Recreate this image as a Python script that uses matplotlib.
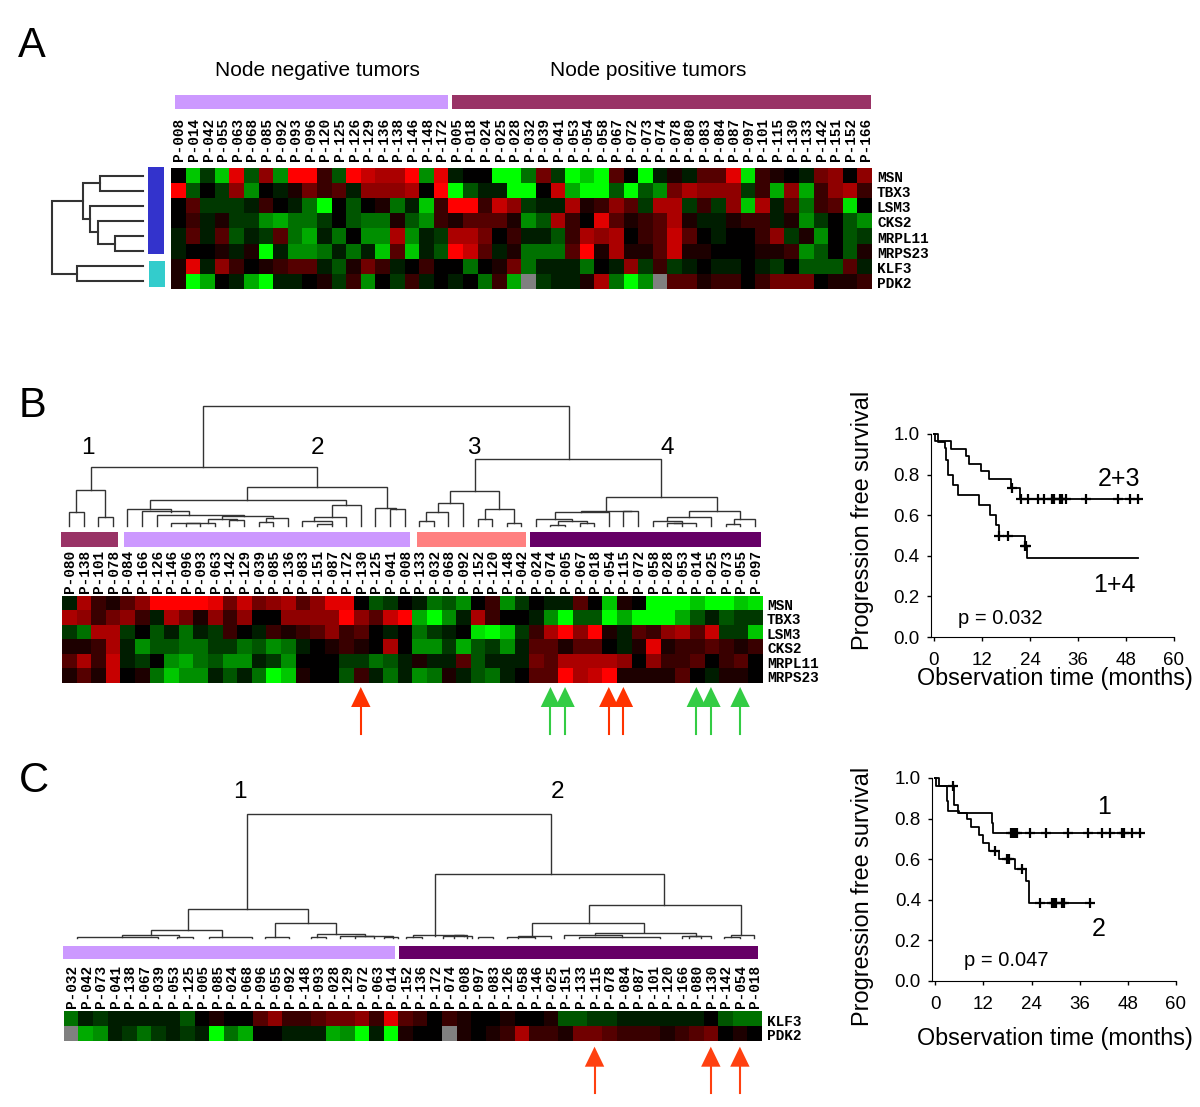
import numpy as np
import matplotlib
matplotlib.use("Agg")
import matplotlib.pyplot as plt
from matplotlib.colors import LinearSegmentedColormap
from matplotlib.patches import Rectangle

plt.rcParams['font.family'] = ['Liberation Sans', 'DejaVu Sans']

nan = float('nan')

# samples in the order of panel A
samples = ['008', '014', '042', '055', '063', '068', '085', '092', '093', '096',
           '120', '125', '126', '129', '136', '138', '146', '148', '172',
           '005', '018', '024', '025', '028', '032', '039', '041', '053', '054',
           '058', '067', '072', '073', '074', '078', '080', '083', '084', '087',
           '097', '101', '115', '130', '133', '142', '151', '152', '166']
genes = ['MSN', 'TBX3', 'LSM3', 'CKS2', 'MRPL11', 'MRPS23', 'KLF3', 'PDK2']

# expression levels, -9 full green .. 9 full red
msn = [0, -7, -2, -7, 8, -3, 5, -5, 9, 9, 2, -3, 9, 7, 6, 6, 9, -5, 8,
       -1, 0, 0, -9, -9, -4, 4, -2, -9, -7, -9, 3, 0, -9, -1, 1, -1, 3, 3, 8, -8, 2, 1, 0, -1, 4, 5, 0, 5]
tbx3 = [9, -3, 0, -2, 5, -5, 0, -1, 1, 4, 2, 3, -1, 5, 5, 5, 6, 0, 9,
        -9, -3, -1, -1, -9, -9, 0, 7, -6, -9, -9, -3, -9, -3, -5, 4, 6, 5, 5, 5, -2, 2, -6, 5, -6, 2, 5, 6, 2]
lsm3 = [0, 3, -2, -2, -2, -1, 2, 0, -1, -4, -9, 0, -3, 0, 1, -4, -1, -7, 2,
        9, 9, 2, 7, 5, -2, -1, -1, 6, 1, 2, 5, 3, -2, 6, 6, -2, 2, -2, 5, -7, 6, -1, 3, -4, 2, 3, -8, 0]
cks2 = [0, 2, -1, 1, -2, -2, -5, -6, -4, -4, -2, 0, -3, -4, -4, 1, -3, -5, 2,
        1, 3, 3, 3, 1, -5, -3, 6, 2, 0, 8, 3, 1, 2, 3, 6, 1, -1, -1, 1, 2, 2, -1, 1, -5, -2, 0, -3, -5]
mrpl11 = [-1, 3, -1, 3, -3, -1, -2, 3, -4, -6, -1, -4, 0, -5, -5, 6, -5, -1, -2,
          6, 6, 4, 0, 2, -1, -1, -3, 2, 6, 5, 6, 0, 2, 3, 7, 3, 0, -1, 0, 0, 2, 5, -2, 1, -5, 0, -3, -2]
mrps23 = [-1, 0, 0, 1, -1, 1, -9, -1, -5, -5, -4, -1, -4, -1, -7, 3, -7, -1, -3,
          9, 7, 3, -1, 1, -4, -4, -4, 3, 9, 1, 6, 1, 1, 3, 7, 1, 1, 0, 0, 0, 1, 1, 2, -5, -3, 0, -3, 1]
klf3 = [1, 8, -1, 5, 2, 0, 1, 2, 3, 3, -1, -3, 1, 4, 2, -1, 0, 2, 0,
        0, -4, 0, 1, 4, -4, -1, -1, -1, -4, 0, -1, 5, -2, 2, -2, -1, 0, -1, -1, 0, -1, -2, 0, -3, -3, -3, 3, -1]
pdk2 = [1, -9, -6, 0, -1, -6, -9, -1, -1, 0, 1, -2, 2, -5, 0, -2, 2, -1, 0,
        -1, 0, -4, 2, -6, nan, -2, -1, -1, 1, 6, -4, -9, -5, nan, 3, 3, 1, 2, 2, 0, 2, 4, 4, 4, 0, 1, 1, 2]

order_b = ['080', '138', '101', '078', '084', '166', '126', '146', '096', '093',
           '063', '142', '129', '039', '085', '136', '083', '151', '087', '172',
           '130', '125', '041', '008', '133', '032', '068', '092', '152', '120',
           '148', '042', '024', '074', '005', '067', '018', '054', '115', '072',
           '058', '028', '053', '014', '025', '073', '055', '097']
order_c = ['032', '042', '073', '041', '138', '067', '039', '053', '125', '005',
           '085', '024', '068', '096', '055', '092', '148', '093', '028', '129',
           '072', '063', '014', '152', '136', '172', '074', '008', '097', '083',
           '126', '058', '146', '025', '151', '133', '115', '078', '084', '087',
           '101', '120', '166', '080', '130', '142', '054', '018']

# dendrogram links: (left pos, left base, right pos, right base, top)
# pos in gene rows / sample columns, heights in pixels above the leaves
links_a = [(0, 0, 1, 0, 43), (4, 0, 5, 0, 28), (3, 0, 4.5, 28, 45), (2, 0, 3.75, 45, 53),
           (0.5, 43, 2.9, 53, 60), (6, 0, 7, 0, 66), (1.7, 60, 6.5, 66, 91)]
links_b = [(0, 0, 1, 0, 14), (2, 0, 3, 0, 9), (0.5, 14, 2.5, 9, 36), (1.5, 36, 17, 39, 59),
           (12.2, 26, 21.8, 18, 39), (5.55, 17, 19, 21, 26), (18, 9, 20, 0, 21),
           (16.8, 5, 19, 0, 9), (16, 0, 18, 2, 5), (17, 0, 18, 0, 2),
           (4, 0, 7, 14.5, 17), (5, 0, 8.2, 11.5, 15), (6, 0, 12, 10, 11.5),
           (10.5, 7, 14, 8, 10), (9.5, 3, 11.5, 6, 7), (7, 0, 10, 0, 3), (8, 0, 9, 0, 3.2),
           (11, 0, 12, 0, 6), (13, 0, 14, 0, 4), (13.5, 4, 15, 0, 8),
           (21, 0, 22.4, 16.7, 18), (22, 0, 23, 0, 16.7),
           (9.2, 59, 34.25, 67, 120),
           (24, 0, 25, 0, 5), (24.5, 5, 26, 0, 14), (25.3, 14, 27, 0, 23), (26.14, 23, 29.5, 17, 35),
           (28, 0, 29, 0, 7), (30, 0, 31, 0, 3.5), (28.5, 7, 30.5, 3.5, 17),
           (27.86, 35, 40.6, 29, 67), (36.8, 15.5, 44.4, 15, 29),
           (38, 0, 39, 0, 15), (33.3, 6.7, 37, 0, 14.3), (35.1, 14.3, 38.5, 15, 15.5),
           (32, 0, 34.5, 5.3, 6.7), (33.5, 1.5, 35.5, 3.5, 5.3), (33, 0, 34, 0, 1.5), (35, 0, 36, 0, 3.5),
           (42.5, 9, 46, 6.7, 15), (45.6, 1.7, 47, 0, 6.7), (45, 0, 46, 0, 1.7),
           (41, 5.3, 44, 0, 9), (40, 0, 42, 3.3, 5.3), (41.5, 2.7, 43, 0, 3.3), (41, 0, 42, 0, 2.7)]
links_c = [(12.1, 29, 33, 64, 124), (8, 7.7, 16.3, 15, 29), (5.5, 2.7, 10.4, 0.7, 7.7),
           (3.5, 0.4, 7.4, 0.4, 2.7), (0.4, 0, 6, 0, 0.5), (7.3, 0, 8.4, 0, 0.5), (9.5, 0, 12.4, 0, 0.5),
           (14, 1, 18.2, 3.7, 15), (13.3, 0, 15, 0, 1), (16.9, 0.4, 20.2, 1.7, 3.7),
           (16.5, 0, 17.5, 0, 0.4), (18.5, 0, 22.1, 0, 1.7), (19.5, 0, 20.8, 0, 2), (21.5, 0, 22.5, 0, 1.2),
           (25, 2, 40.8, 32.7, 64), (23.5, 0.4, 27, 2, 2.7), (23, 0, 24.1, 0, 0.4), (25.6, 0, 27.6, 0, 2.2),
           (26.3, 0, 27.2, 0, 2.3), (28, 0, 29, 0, 0.4),
           (35.6, 15, 46.1, 2.7, 32.7), (31.7, 2, 39.4, 5.3, 15), (30.7, 0, 33, 0, 2), (30, 0, 31.9, 0, 0.4),
           (36, 2.3, 43, 1.7, 5), (33.9, 0, 37.9, 0.4, 2.3), (34.9, 0, 40.5, 0, 0.4),
           (42, 0, 44, 0, 1.7), (42.5, 0, 43.3, 0, 2), (45.4, 0.4, 47, 0, 2.7), (44.9, 0, 46, 0, 0.4)]

# arrows under the heatmaps
red_b = ['130', '054', '115']
green_b = ['074', '005', '014', '025', '055']
red_c = ['115', '130', '054']

# Kaplan-Meier curves, panel B
b_up_t = [0, 0.2, 4.3, 8, 8.8, 11.8, 13.7, 19.3, 21.4, 51.8]
b_up_s = [1.0, 0.965, 0.926, 0.89, 0.854, 0.82, 0.778, 0.732, 0.68, 0.68]
b_up_cens = [19.5, 21.8, 23.5, 26, 27.5, 29.5, 30, 31.5, 32, 33, 38, 46, 49, 51]
b_lo_t = [0, 1, 2.7, 3.0, 3.5, 4.7, 6, 11.2, 13.9, 15.6, 16.2, 22.7, 23.3, 51]
b_lo_s = [1.0, 0.96, 0.93, 0.87, 0.8, 0.75, 0.7, 0.65, 0.6, 0.55, 0.5, 0.447, 0.39, 0.39]
b_lo_cens = [16.3, 18.5, 22.8, 23.1]

# panel C
c_up_t = [0, 0.2, 4.6, 5.8, 14.2, 14.5, 52]
c_up_s = [1.0, 0.96, 0.868, 0.827, 0.778, 0.73, 0.73]
c_up_cens = [4.4, 19, 19.5, 20, 20.5, 23.5, 27.5, 33, 38, 41.5, 43.5, 46.5, 47, 49, 51]
c_lo_t = [0, 1, 3, 3.3, 6, 8, 9, 11, 12, 13.5, 16, 19.8, 22.7, 23.3, 39.3]
c_lo_s = [1.0, 0.96, 0.885, 0.838, 0.827, 0.8, 0.76, 0.72, 0.68, 0.64, 0.6, 0.55, 0.494, 0.385, 0.385]
c_lo_cens = [15, 18, 18.5, 21.7, 26, 29, 29.5, 30, 31.5, 32, 38.5]

matrix = np.array([msn, tbx3, lsm3, cks2, mrpl11, mrps23, klf3, pdk2], dtype=float)

cmap = LinearSegmentedColormap.from_list('gbr', ['#00FF00', '#000000', '#FF0000'])
cmap.set_bad('#808080')
LILAC, MAROON, SALMON, PURPLE = '#CC99FF', '#993366', '#FF8080', '#660066'

fig = plt.figure(figsize=(12, 11.07), dpi=100)
canvas = fig.add_axes([0, 0, 1, 1])


def subset(order, rows):
    idx = [samples.index(s) for s in order]
    return matrix[rows][:, idx]


def heatmap(values, x0, x1, y0, y1):
    canvas.imshow(values, extent=(x0, x1, y1, y0), aspect='auto', cmap=cmap,
                  vmin=-9, vmax=9, interpolation='nearest')


def name_labels(order, x0, x1, y):
    w = (x1 - x0) / len(order)
    for i, s in enumerate(order):
        canvas.text(x0 + (i + 0.5) * w + 1, y, 'P-' + s, rotation=90, ha='center', va='bottom',
                    family='Liberation Mono', weight='bold', fontsize=10.4)


def gene_labels(names, x, y0, y1):
    h = (y1 - y0) / len(names)
    for i, g in enumerate(names):
        canvas.text(x, y0 + (i + 0.5) * h + 2.5, g, ha='left', va='center',
                    family='Liberation Mono', weight='bold', fontsize=10.4)


def bar(x0, x1, y0, y1, color):
    canvas.add_patch(Rectangle((x0, y0), x1 - x0, y1 - y0, color=color, lw=0))


def dendro(links, x0, x1, base, n=48, color='#333333', lw=1.0):
    w = (x1 - x0) / n
    for a, ab, b, bb, top in links:
        xa, xb = x0 + (a + 0.5) * w, x0 + (b + 0.5) * w
        canvas.plot([xa, xa, xb, xb], [base - ab, base - top, base - top, base - bb],
                    color=color, lw=lw, solid_joinstyle='miter')


def gene_dendro(links, right, y0, y1, n=8):
    h = (y1 - y0) / n
    for a, ab, b, bb, top in links:
        ya, yb = y0 + (a + 0.5) * h, y0 + (b + 0.5) * h
        canvas.plot([right - ab, right - top, right - top, right - bb], [ya, ya, yb, yb],
                    color='#333333', lw=1.5, solid_joinstyle='miter')


def arrows(names, order, color, x0, x1, tip, neck, tail):
    w = (x1 - x0) / len(order)
    for s in names:
        x = x0 + (order.index(s) + 0.5) * w
        canvas.plot([x, x], [neck, tail], color=color, lw=1.5)
        canvas.fill([x - 9.7, x, x + 9.7], [neck, tip, neck], color=color, lw=0)


def km_value(ts, ss, t):
    return ss[np.searchsorted(ts, t, side='right') - 1]


def km_panel(box, curves, xlabel_y, ylabel_y):
    left, top, right, bottom = box
    ax = fig.add_axes([left / 1200, 1 - bottom / 1107, (right - left) / 1200, (bottom - top) / 1107])
    ax.patch.set_alpha(0)
    for ts, ss, cens in curves:
        ax.step(ts, ss, where='post', color='black', lw=1.3, clip_on=False)
        ax.plot(cens, [km_value(ts, ss, t) for t in cens], ls='none', marker='+',
                color='black', ms=7.5, mew=1.6, clip_on=False)
    ax.set_xlim(-0.8, 60)
    ax.set_ylim(0, 1)
    ax.set_xticks(np.arange(0, 61, 12))
    ax.set_yticks(np.arange(0, 1.01, 0.2))
    ax.set_yticklabels(['0.0', '0.2', '0.4', '0.6', '0.8', '1.0'])
    ax.tick_params(axis='x', length=3, width=1, labelsize=13.5, pad=8)
    ax.tick_params(axis='y', length=3, width=1, labelsize=13.5, pad=5)
    for side in ['top', 'right']:
        ax.spines[side].set_visible(False)
    canvas.text(1055, xlabel_y, 'Observation time (months)', ha='center', va='center', fontsize=16.8)
    canvas.text(862, ylabel_y, 'Progression free survival', ha='center', va='center',
                rotation=90, fontsize=16.9)


# panel A
canvas.text(32, 46, 'A', ha='center', va='center', fontsize=30)
canvas.text(317, 71, 'Node negative tumors', ha='center', va='center', fontsize=15)
canvas.text(648, 71, 'Node positive tumors', ha='center', va='center', fontsize=15)
bar(175, 448, 95, 109, LILAC)
bar(452, 871, 95, 109, MAROON)
name_labels(samples, 171, 872, 161)
heatmap(matrix, 171, 872, 168, 289)
gene_labels(genes, 877, 168, 289)
bar(148, 164, 167, 254, '#3333CC')
bar(149, 165, 261, 287, '#33CCCC')
gene_dendro(links_a, 143, 168, 289)

# panel B
canvas.text(33, 406, 'B', ha='center', va='center', fontsize=30)
for lab, x in zip(['1', '2', '3', '4'], [88, 318, 474, 667]):
    canvas.text(x, 448, lab, ha='center', va='center', fontsize=17.5)
dendro(links_b, 61.7, 762, 526)
bar(61, 118, 532, 547, MAROON)
bar(124, 410, 532, 547, LILAC)
bar(417, 526, 532, 547, SALMON)
bar(530, 761, 532, 547, PURPLE)
name_labels(order_b, 61.7, 762, 593)
heatmap(subset(order_b, range(6)), 61.7, 762, 596, 683)
gene_labels(genes[:6], 767, 596, 683)
arrows(red_b, order_b, '#FF3300', 61.7, 762, 687, 707, 734)
arrows(green_b, order_b, '#33CC44', 61.7, 762, 687, 707, 734)
km_panel((930.7, 434, 1174, 637), [(b_up_t, b_up_s, b_up_cens), (b_lo_t, b_lo_s, b_lo_cens)], 679, 520)
canvas.text(1119, 479, '2+3', ha='center', va='center', fontsize=18)
canvas.text(1114, 585, '1+4', ha='center', va='center', fontsize=18)
canvas.text(1000, 619, 'p = 0.032', ha='center', va='center', fontsize=14.5)

# panel C
canvas.text(34, 781, 'C', ha='center', va='center', fontsize=30)
canvas.text(240, 792, '1', ha='center', va='center', fontsize=17.5)
canvas.text(558, 792, '2', ha='center', va='center', fontsize=17.5)
dendro(links_c, 64, 761.7, 937.7)
bar(63, 395, 945.7, 959, LILAC)
bar(399, 758, 945.7, 959, PURPLE)
name_labels(order_c, 64, 761.7, 1008)
heatmap(subset(order_c, [6, 7]), 64, 761.7, 1011.7, 1041)
gene_labels(genes[6:], 767, 1011.7, 1041)
arrows(red_c, order_c, '#FF4010', 64, 761.7, 1046.7, 1066.7, 1092.7)
km_panel((932, 778, 1176, 980.7), [(c_up_t, c_up_s, c_up_cens), (c_lo_t, c_lo_s, c_lo_cens)], 1038, 896)
canvas.text(1104, 807, '1', ha='center', va='center', fontsize=18)
canvas.text(1099, 929, '2', ha='center', va='center', fontsize=18)
canvas.text(1006, 960, 'p = 0.047', ha='center', va='center', fontsize=14.5)

canvas.set_xlim(0, 1200)
canvas.set_ylim(1107, 0)
canvas.axis('off')

fig.savefig('out.png', dpi=100)
